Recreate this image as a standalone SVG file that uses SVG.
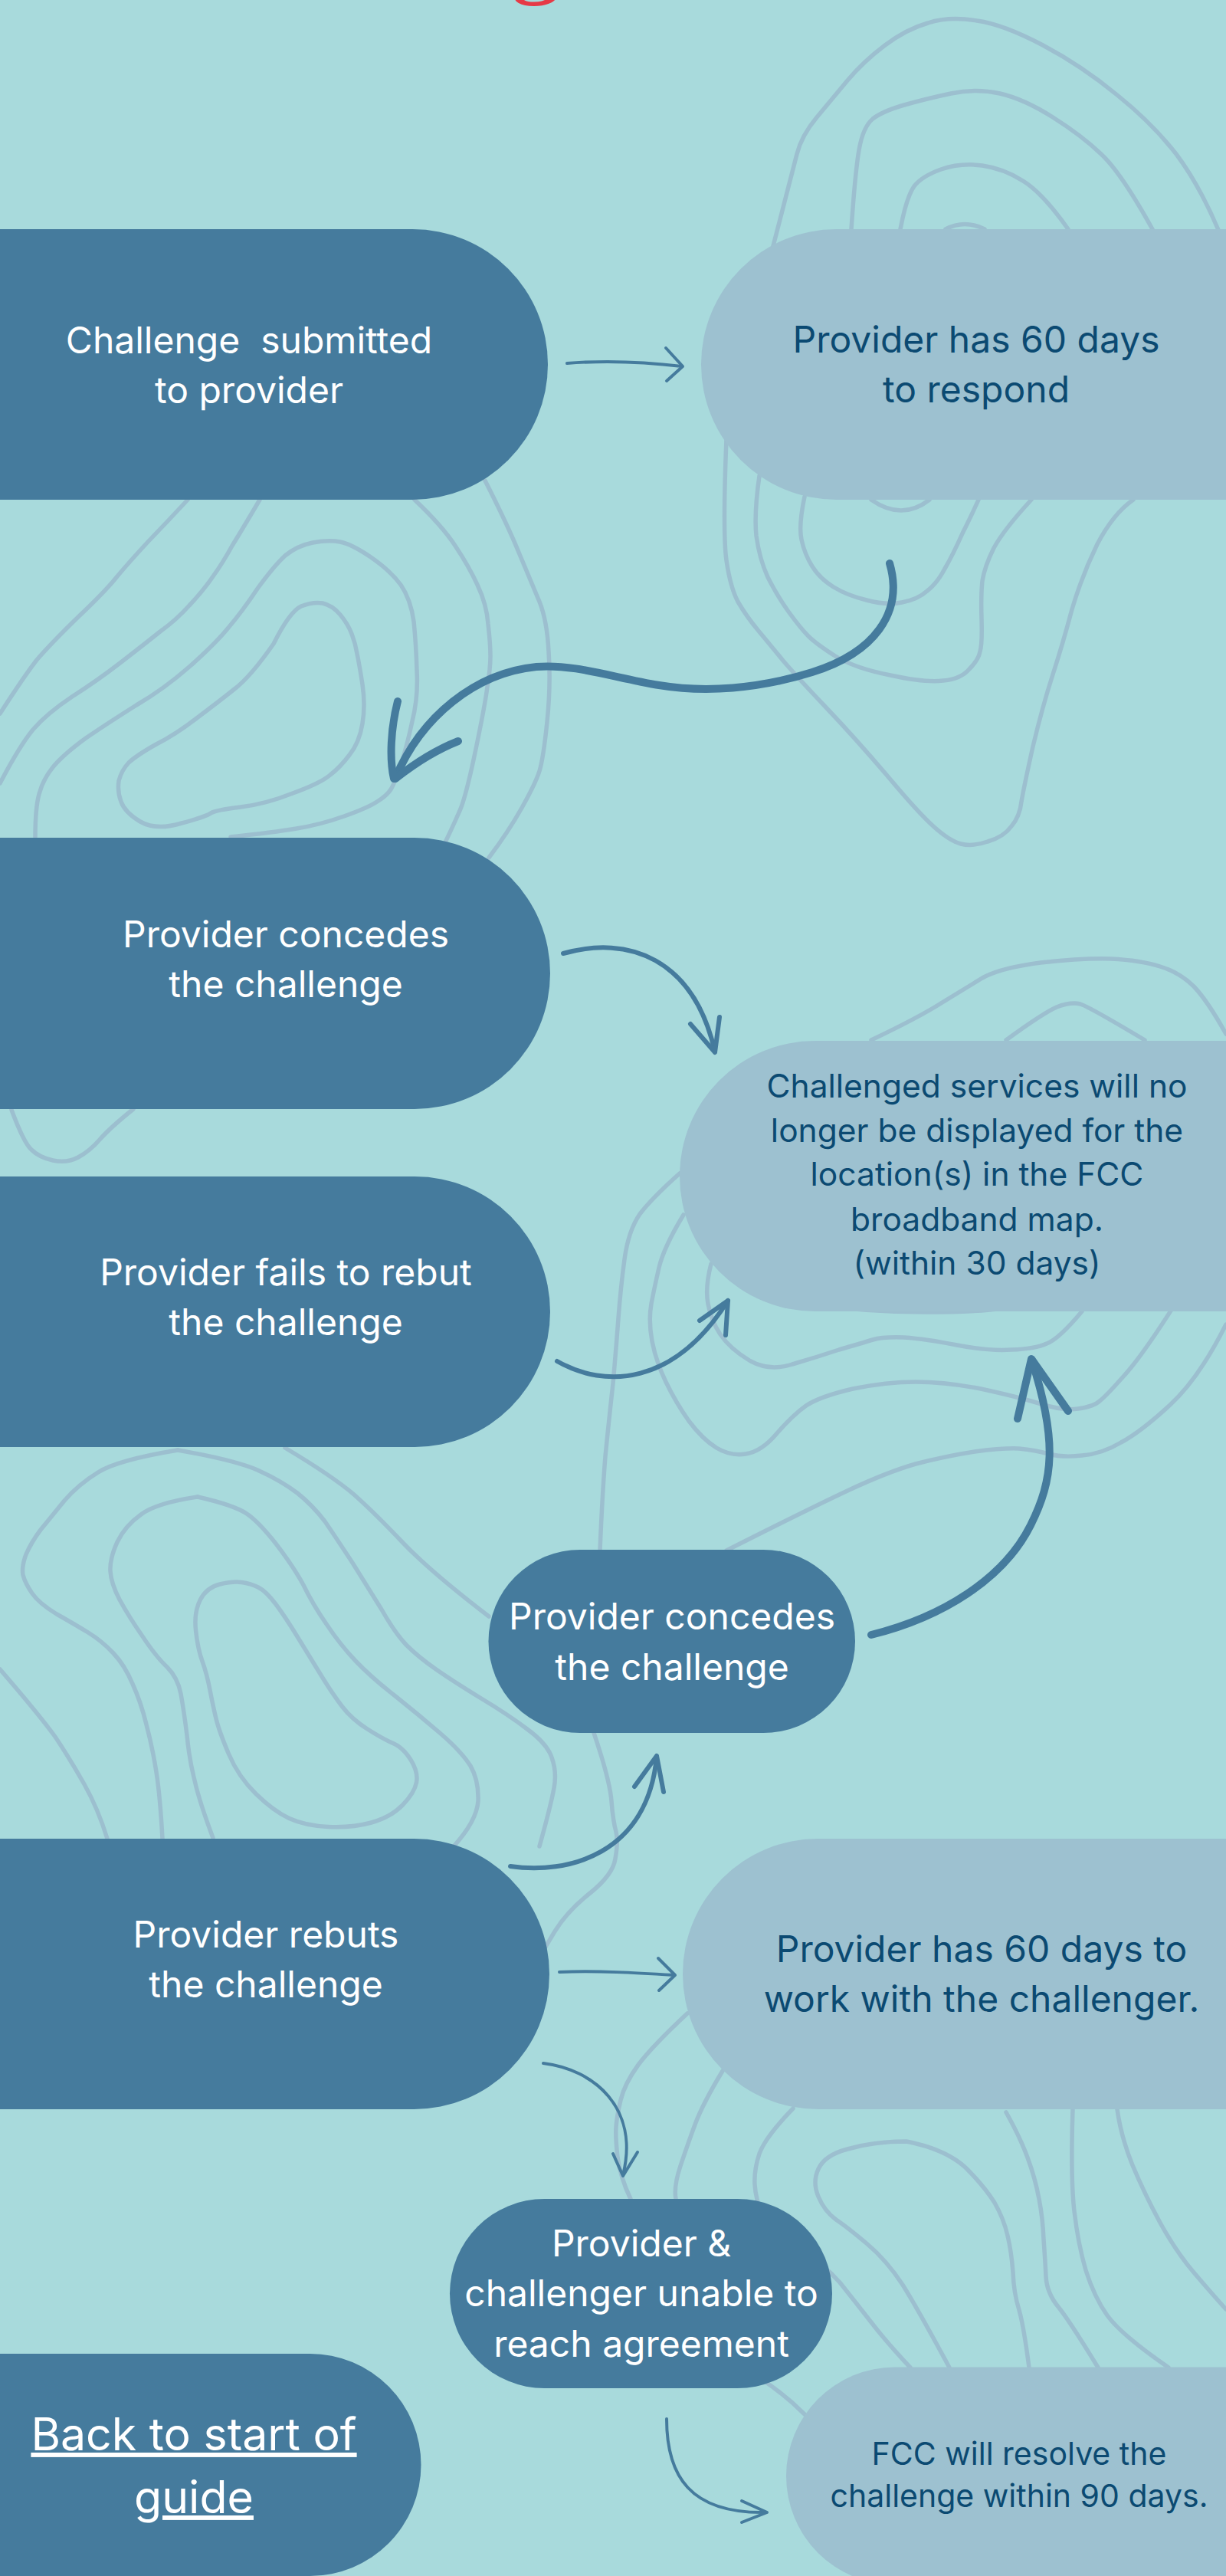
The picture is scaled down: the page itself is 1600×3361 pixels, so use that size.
<svg xmlns="http://www.w3.org/2000/svg" width="1600" height="3361" viewBox="0 0 1600 3361">
<defs>
<style>
.bg{fill:#a8dadc}
.topo{fill:none;stroke:#9cbfcf;stroke-width:5.5;stroke-linecap:round;stroke-linejoin:round}
.dark{fill:#457b9d}
.light{fill:#9dc1d0}
.tw{font-family:"Inter","Liberation Sans",sans-serif;font-size:48px;fill:#ffffff;text-anchor:middle}
.td{font-family:"Inter","Liberation Sans",sans-serif;font-size:48px;fill:#0b4a72;text-anchor:middle}
.arr{fill:none;stroke:#457b9d;stroke-linecap:round;stroke-linejoin:round}
.thin{stroke-width:4}
.med{stroke-width:6}
.thick{stroke-width:10}
</style>
</defs>
<rect class="bg" x="0" y="0" width="1600" height="3361"/>
<text x="699" y="-22" font-family="'Liberation Serif',serif" font-size="140" fill="#e63946" text-anchor="middle">g</text>

<g id="contours">
<path class="topo" d="M1009,321 Q1034,225 1040,201 Q1046,177 1066,153 Q1086,129 1106,105 Q1127,80 1155,59 Q1183,38 1211,30 Q1239,21 1275,27 Q1310,32 1361,59 Q1412,86 1458,124 Q1504,161 1535,201 Q1565,241 1590,300"/>
<path class="topo" d="M948,573 Q943,696 948,731 Q953,766 963,785 Q974,804 989,822 Q1004,840 1022,862 Q1040,883 1078,923 Q1116,963 1157,1011 Q1198,1060 1218,1078 Q1239,1097 1254,1101 Q1269,1105 1289,1098 Q1310,1092 1320,1078 Q1331,1065 1333,1046 Q1336,1028 1348,974 Q1361,920 1374,880 Q1387,840 1399,795 Q1412,751 1432,710 Q1453,670 1479,652"/>
<path class="topo" d="M991,621 Q984,670 987,699 Q991,729 1002,753 Q1014,777 1029,798 Q1045,820 1055,830 Q1065,840 1090,856 Q1116,872 1162,881 Q1208,891 1231,888 Q1254,886 1265,873 Q1277,861 1279,850 Q1282,840 1281,808 Q1280,777 1282,758 Q1285,739 1297,715 Q1310,691 1346,652"/>
<path class="topo" d="M1050,648 Q1042,686 1046,704 Q1050,723 1060,739 Q1070,755 1088,766 Q1106,777 1131,783 Q1157,790 1177,786 Q1198,782 1210,771 Q1223,761 1233,742 Q1244,723 1256,696 Q1269,670 1277,652"/>
<path class="topo" d="M1137,652 Q1177,680 1213,652"/>
<path class="topo" d="M1111,299 Q1116,225 1121,196 Q1126,166 1139,155 Q1152,145 1180,137 Q1208,129 1241,122 Q1274,115 1305,122 Q1336,129 1374,153 Q1412,177 1437,201 Q1463,225 1504,299"/>
<path class="topo" d="M1175,299 Q1183,257 1193,243 Q1203,230 1228,221 Q1254,212 1282,216 Q1310,220 1335,236 Q1361,252 1394,299"/>
<path class="topo" d="M1234,299 Q1259,286 1285,299"/>
<path class="topo" d="M1137,1357 Q1198,1328 1228,1309 Q1259,1290 1282,1276 Q1305,1263 1358,1256 Q1412,1250 1450,1251 Q1489,1253 1514,1261 Q1540,1269 1558,1287 Q1576,1306 1600,1349"/>
<path class="topo" d="M1313,1357 Q1361,1322 1379,1314 Q1397,1307 1410,1310 Q1422,1314 1494,1357"/>
<path class="topo" d="M887,1531 Q851,1563 835,1584 Q820,1606 815,1643 Q810,1680 807,1720 Q804,1760 800,1805 Q795,1850 790,1900 Q786,1950 783,2023"/>
<path class="topo" d="M775,2261 Q796,2323 798,2350 Q800,2376 804,2390 Q807,2403 803,2425 Q800,2446 770,2470 Q740,2494 724,2520 Q712,2540 700,2560"/>
<path class="topo" d="M892,1585 Q866,1628 860,1654 Q854,1680 850,1701 Q846,1723 851,1750 Q856,1776 869,1803 Q882,1830 899,1854 Q917,1878 935,1889 Q953,1900 973,1897 Q994,1894 1014,1870 Q1035,1846 1052,1834 Q1070,1822 1113,1812 Q1157,1803 1195,1803 Q1234,1803 1280,1812 Q1326,1822 1356,1831 Q1387,1841 1407,1838 Q1428,1835 1435,1828 Q1443,1822 1466,1796 Q1489,1771 1530,1707"/>
<path class="topo" d="M928,1649 Q920,1680 924,1701 Q928,1723 940,1741 Q953,1760 978,1775 Q1004,1790 1034,1780 Q1065,1771 1095,1761 Q1126,1752 1139,1748 Q1152,1744 1180,1745 Q1208,1747 1249,1755 Q1290,1763 1320,1761 Q1351,1760 1366,1753 Q1382,1747 1412,1711"/>
<path class="topo" d="M1055,1701 Q1130,1712 1208,1712 Q1274,1712 1310,1707"/>
<path class="topo" d="M1600,1728 Q1565,1798 1527,1833 Q1489,1868 1463,1882 Q1438,1897 1412,1899 Q1387,1902 1369,1897 Q1351,1892 1330,1890 Q1310,1889 1272,1894 Q1234,1900 1195,1910 Q1157,1921 1106,1945 Q1055,1969 948,2023"/>
<path class="topo" d="M638,2109 Q561,2050 525,2012 Q490,1975 462,1950 Q434,1926 372,1889"/>
<path class="topo" d="M232,1892 Q153,1905 128,1921 Q102,1937 84,1958 Q66,1980 53,1996 Q41,2012 34,2028 Q28,2044 30,2055 Q33,2066 42,2079 Q51,2092 74,2106 Q97,2119 115,2130 Q133,2141 148,2157 Q163,2173 173,2197 Q184,2221 191,2250 Q199,2280 204,2312 Q209,2344 212,2399"/>
<path class="topo" d="M232,1892 Q306,1905 336,1918 Q367,1932 388,1948 Q408,1964 424,1985 Q439,2007 460,2039 Q480,2071 498,2100 Q515,2130 530,2146 Q546,2162 569,2178 Q592,2194 628,2216 Q663,2237 688,2256 Q714,2275 720,2293 Q727,2312 723,2333 Q719,2355 704,2409"/>
<path class="topo" d="M258,1953 Q204,1961 184,1976 Q163,1991 153,2012 Q143,2034 144,2050 Q145,2066 156,2087 Q168,2109 186,2135 Q204,2162 218,2175 Q232,2189 236,2210 Q240,2232 244,2264 Q247,2296 254,2323 Q260,2350 278,2398"/>
<path class="topo" d="M258,1953 Q306,1964 322,1975 Q337,1985 360,2014 Q383,2044 396,2068 Q408,2093 426,2119 Q444,2146 464,2167 Q485,2189 516,2213 Q546,2237 574,2261 Q602,2285 614,2304 Q625,2323 624,2350 Q622,2376 592,2409"/>
<path class="topo" d="M315.5,2064.5 Q304,2063 287,2067 Q270,2071 261.5,2087 Q253,2103 255.5,2127 Q258,2151 264,2167.5 Q270,2184 274,2205 Q278,2226 282,2242.5 Q286,2259 298.5,2288.5 Q311,2318 334,2340.5 Q357,2363 377.5,2372.5 Q398,2382 428.5,2383.5 Q459,2385 484.5,2378 Q510,2371 525.5,2355 Q541,2339 543.5,2325.5 Q546,2312 536,2296 Q526,2280 513,2274.5 Q500,2269 479.5,2256 Q459,2243 446.5,2226.5 Q434,2210 421,2189 Q408,2168 390,2138.5 Q372,2109 359.5,2092.5 Q347,2076 337,2071 Q327,2066 315.5,2064.5 Z"/>
<path class="topo" d="M0,2178 Q51,2237 72,2266 Q92,2296 110,2328 Q128,2360 140,2399"/>
<path class="topo" d="M0,931 Q31,883 48,861 Q66,840 102,805 Q138,771 153,752 Q168,734 193,707 Q219,680 245,652"/>
<path class="topo" d="M0,1022 Q25,974 43,952 Q61,931 94,909 Q127,888 158,864 Q189,840 209,824 Q230,809 247,790 Q265,771 278,752 Q291,734 303,712 Q316,691 339,652"/>
<path class="topo" d="M46,1092 Q46,1054 51,1036 Q56,1017 69,1001 Q82,985 112,963 Q143,942 178,920 Q214,899 247,870 Q281,840 298,819 Q316,798 336,768 Q357,739 372,725 Q388,712 408,708 Q429,704 444,707 Q459,710 484,727 Q510,745 523,763 Q536,782 540,811 Q543,840 544,875 Q546,909 538,941 Q531,974 523,998 Q515,1022 510,1030 Q505,1038 492,1046 Q480,1054 449,1065 Q418,1076 387,1081 Q357,1086 301,1092"/>
<path class="topo" d="M357,840 Q378,798 393,791 Q408,785 421,787 Q434,790 444,802 Q454,814 459,827 Q464,840 466,853 Q469,867 473,893 Q477,920 473,944 Q469,969 456,985 Q444,1001 431,1011 Q418,1022 382,1035 Q347,1049 314,1053 Q281,1057 275,1061 Q270,1065 237,1074 Q204,1084 183,1072 Q163,1060 158,1046 Q153,1033 155,1019 Q158,1006 168,995 Q179,985 204,971 Q230,958 258,936 Q286,915 306,899 Q327,883 357,840 Z"/>
<path class="topo" d="M582,1097 Q592,1076 599,1060 Q607,1044 620,982 Q633,920 636,896 Q640,872 640,856 Q640,840 637,814 Q635,788 623,763 Q612,739 594,712 Q577,686 541,652"/>
<path class="topo" d="M638,1119 Q663,1086 681,1054 Q699,1022 704,1006 Q709,990 714,942 Q719,894 716,850 Q714,810 704,785 Q694,761 678,723 Q663,686 633,627"/>
<path class="topo" d="M15,1448 Q31,1491 41,1500 Q51,1510 69,1514 Q87,1518 102,1510 Q117,1502 130,1487 Q143,1472 174,1447"/>
<path class="topo" d="M897,2627 Q851,2670 833,2694 Q815,2719 810,2740 Q805,2761 804,2775 Q803,2788 806,2815 Q810,2842 823,2869"/>
<path class="topo" d="M943,2702 Q917,2745 907,2772 Q897,2799 888,2826 Q879,2853 882,2869"/>
<path class="topo" d="M1035,2751 Q999,2788 991,2810 Q984,2831 985,2850 Q986,2869 995,2890 Q1004,2912 1040,2933 Q1075,2954 1096,2978 Q1116,3003 1137,3030 Q1157,3056 1188,3089"/>
<path class="topo" d="M1239,3089 Q1198,3013 1178,2981 Q1157,2949 1132,2928 Q1106,2906 1091,2896 Q1076,2885 1068,2866 Q1060,2847 1068,2830 Q1076,2812 1106,2804 Q1140,2794 1183,2794 Q1234,2804 1260,2828 Q1285,2853 1298,2874 Q1310,2895 1315,2917 Q1320,2938 1322,2965 Q1323,2992 1330,3014 Q1336,3035 1343,3089"/>
<path class="topo" d="M1313,2756 Q1331,2788 1341,2815 Q1351,2842 1356,2869 Q1361,2895 1362,2922 Q1364,2949 1365,2970 Q1366,2992 1382,3011 Q1397,3030 1433,3089"/>
<path class="topo" d="M1400,2752 Q1397,2842 1402,2885 Q1407,2928 1417,2962 Q1428,2997 1445,3021 Q1463,3046 1525,3089"/>
<path class="topo" d="M1458,2752 Q1463,2788 1478,2825 Q1494,2863 1514,2900 Q1535,2938 1558,2965 Q1581,2992 1600,3013"/>
<path class="topo" d="M995,3105 Q1025,3125 1050,3150"/>
</g>

<g id="connectors">
<path class="arr thin" d="M740,474 C790,470 840,472 890,478"/>
<path class="arr thin" d="M869,454 L891,478 L870,497"/>
<path class="arr thick" d="M1161,735 C1180,800 1140,852 1060,877 C990,899 920,904 860,894 C800,884 750,866 700,870 C620,878 550,935 516,1015"/>
<path class="arr thick" d="M519,915 C510,950 508,990 514,1016 M598,967 C565,980 540,997 516,1016"/>
<path class="arr med" d="M735,1244 C820,1220 905,1250 933,1372"/>
<path class="arr med" d="M901,1336 L933,1373 L939,1327"/>
<path class="arr med" d="M727,1776 C790,1812 880,1808 950,1697"/>
<path class="arr med" d="M913,1723 L950,1697 L947,1742"/>
<path class="arr thick" d="M1137,2133 C1230,2110 1310,2060 1345,1990 C1375,1930 1380,1880 1347,1776"/>
<path class="arr thick" d="M1328,1851 L1346,1773 L1394,1841"/>
<path class="arr med" d="M666,2435 C740,2446 845,2420 857,2292"/>
<path class="arr med" d="M828,2331 L857,2291 L866,2338"/>
<path class="arr thin" d="M730,2573 C780,2571 830,2574 880,2577"/>
<path class="arr thin" d="M859,2555 L881,2577 L860,2597"/>
<path class="arr thin" d="M709,2692 C775,2700 835,2750 813,2838"/>
<path class="arr thin" d="M800,2810 L813,2839 L832,2808"/>
<path class="arr thin" d="M870,3156 C870,3230 900,3280 1000,3278"/>
<path class="arr thin" d="M968,3263 L1001,3278 L968,3291"/>
</g>

<g id="node-submitted">
<rect class="dark" x="-400" y="299" width="1115" height="353" rx="176.5"/>
<text class="tw" x="325" y="461" xml:space="preserve">Challenge  submitted</text>
<text class="tw" x="325" y="526">to provider</text>
</g>
<g id="node-60days-respond">
<rect class="light" x="915" y="299" width="1100" height="353" rx="176.5"/>
<text class="td" x="1274" y="460">Provider has 60 days</text>
<text class="td" x="1274" y="525">to respond</text>
</g>
<g id="node-concedes-1">
<rect class="dark" x="-400" y="1093" width="1118" height="354" rx="177"/>
<text class="tw" x="373" y="1236">Provider concedes</text>
<text class="tw" x="373" y="1301">the challenge</text>
</g>
<g id="node-fails">
<rect class="dark" x="-400" y="1535" width="1118" height="353" rx="176.5"/>
<text class="tw" x="373" y="1677">Provider fails to rebut</text>
<text class="tw" x="373" y="1742">the challenge</text>
</g>
<g id="node-removed">
<rect class="light" x="887" y="1358" width="1100" height="353" rx="176.5"/>
<text class="td" style="font-size:42.5px" x="1275" y="1432">Challenged services will no</text>
<text class="td" style="font-size:42.5px" x="1275" y="1490">longer be displayed for the</text>
<text class="td" style="font-size:42.5px" x="1275" y="1547">location(s) in the FCC</text>
<text class="td" style="font-size:42.5px" x="1275" y="1606">broadband map.</text>
<text class="td" style="font-size:42.5px" x="1275" y="1663">(within 30 days)</text>
</g>
<g id="node-concedes-2">
<rect class="dark" x="637.5" y="2022" width="478.5" height="239" rx="119.5"/>
<text class="tw" x="877" y="2126">Provider concedes</text>
<text class="tw" x="877" y="2192">the challenge</text>
</g>
<g id="node-rebuts">
<rect class="dark" x="-400" y="2399" width="1117" height="353" rx="176.5"/>
<text class="tw" x="347" y="2541">Provider rebuts</text>
<text class="tw" x="347" y="2606">the challenge</text>
</g>
<g id="node-60days-work">
<rect class="light" x="891" y="2399" width="1100" height="353" rx="176.5"/>
<text class="td" x="1281" y="2560">Provider has 60 days to</text>
<text class="td" x="1281" y="2625">work with the challenger.</text>
</g>
<g id="node-unable">
<rect class="dark" x="587" y="2869" width="499" height="247" rx="123.5"/>
<text class="tw" x="837" y="2944">Provider &amp;</text>
<text class="tw" x="837" y="3009">challenger unable to</text>
<text class="tw" x="837" y="3075">reach agreement</text>
</g>
<g id="node-back">
<rect class="dark" x="-400" y="3071" width="949.5" height="290" rx="145"/>
<text class="tw" style="font-size:59px" text-decoration="underline" x="253" y="3197">Back to start of</text>
<text class="tw" style="font-size:59px" text-decoration="underline" x="253" y="3279">guide</text>
</g>
<g id="node-fcc">
<rect class="light" x="1026" y="3088.5" width="1000" height="284" rx="142"/>
<text class="td" style="font-size:41px" x="1330" y="3216">FCC will resolve the</text>
<text class="td" style="font-size:41px" x="1330" y="3271">challenge within 90 days.</text>
</g>
</svg>
